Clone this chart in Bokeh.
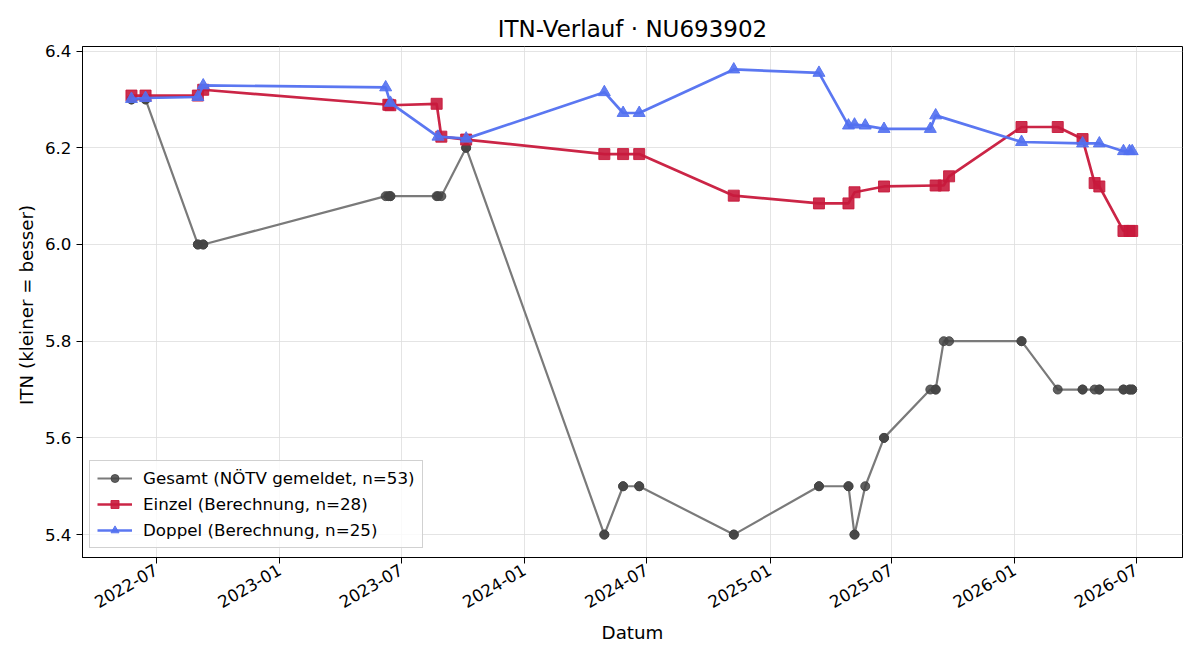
import math
import pandas as pd
from bokeh.plotting import figure
from bokeh.models import Range1d, MonthsTicker, DatetimeTickFormatter, FixedTicker, NumeralTickFormatter, Legend
from bokeh.embed import file_html
from bokeh.resources import INLINE

# ---------------- data ----------------
gesamt_dates = [
    "2022-05-25", "2022-05-25", "2022-06-15", "2022-06-15",
    "2022-09-01", "2022-09-01", "2022-09-09", "2022-09-09",
    "2023-06-08", "2023-06-12", "2023-06-15", "2023-06-15",
    "2023-08-23", "2023-08-25", "2023-08-30", "2023-10-06", "2023-10-06",
    "2024-04-29", "2024-04-29", "2024-05-27", "2024-05-27", "2024-06-20", "2024-06-20",
    "2024-11-08", "2024-11-08", "2025-03-15", "2025-03-15", "2025-04-28", "2025-04-28",
    "2025-05-07", "2025-05-07", "2025-05-23", "2025-06-20", "2025-06-20",
    "2025-08-28", "2025-09-05", "2025-09-05", "2025-09-17", "2025-09-25",
    "2026-01-11", "2026-01-11", "2026-03-06", "2026-04-12", "2026-04-12",
    "2026-04-30", "2026-05-07", "2026-05-07", "2026-06-12", "2026-06-12",
    "2026-06-21", "2026-06-21", "2026-06-25", "2026-06-25",
]
gesamt_values = [
    6.3, 6.3, 6.3, 6.3,
    6.0, 6.0, 6.0, 6.0,
    6.1, 6.1, 6.1, 6.1,
    6.1, 6.1, 6.1, 6.2, 6.2,
    5.4, 5.4, 5.5, 5.5, 5.5, 5.5,
    5.4, 5.4, 5.5, 5.5, 5.5, 5.5,
    5.4, 5.4, 5.5, 5.6, 5.6,
    5.7, 5.7, 5.7, 5.8, 5.8,
    5.8, 5.8, 5.7, 5.7, 5.7,
    5.7, 5.7, 5.7, 5.7, 5.7,
    5.7, 5.7, 5.7, 5.7,
]

einzel_dates = [
    "2022-05-25", "2022-06-15", "2022-09-01", "2022-09-09",
    "2023-06-12", "2023-06-15", "2023-08-23", "2023-08-30", "2023-10-06",
    "2024-04-29", "2024-05-27", "2024-06-20", "2024-11-08",
    "2025-03-15", "2025-04-28", "2025-05-07", "2025-06-20",
    "2025-09-05", "2025-09-17", "2025-09-25",
    "2026-01-11", "2026-03-06", "2026-04-12", "2026-04-30", "2026-05-07",
    "2026-06-12", "2026-06-21", "2026-06-25",
]
einzel_values = [
    6.308, 6.308, 6.308, 6.320,
    6.289, 6.288, 6.291, 6.223, 6.217,
    6.187, 6.187, 6.187, 6.101,
    6.085, 6.085, 6.108, 6.120,
    6.122, 6.122, 6.141,
    6.243, 6.243, 6.218, 6.127, 6.120,
    6.028, 6.028, 6.028,
]

doppel_dates = [
    "2022-05-25", "2022-06-15", "2022-09-01", "2022-09-09",
    "2023-06-08", "2023-06-15", "2023-08-25", "2023-10-06",
    "2024-04-29", "2024-05-27", "2024-06-20", "2024-11-08",
    "2025-03-15", "2025-04-28", "2025-05-07", "2025-05-23", "2025-06-20",
    "2025-08-28", "2025-09-05",
    "2026-01-11", "2026-04-12", "2026-05-07",
    "2026-06-12", "2026-06-21", "2026-06-25",
]
doppel_values = [
    6.301, 6.303, 6.305, 6.329,
    6.325, 6.293, 6.223, 6.219,
    6.315, 6.272, 6.272, 6.362,
    6.355, 6.246, 6.248, 6.246, 6.239,
    6.239, 6.267,
    6.212, 6.209, 6.209,
    6.193, 6.193, 6.193,
]

y_ticks = [5.4, 5.6, 5.8, 6.0, 6.2, 6.4]

# ---------------- figure ----------------
gx = pd.to_datetime(gesamt_dates)
ex = pd.to_datetime(einzel_dates)
dx = pd.to_datetime(doppel_dates)

p = figure(
    width=1200, height=660,
    x_axis_type="datetime",
    output_backend="svg", toolbar_location=None,
    x_range=Range1d(pd.Timestamp("2022-03-13"), pd.Timestamp("2026-09-08")),
    y_range=Range1d(5.3526, 6.4095),
    min_border_left=82, min_border_right=18, min_border_top=46, min_border_bottom=103,
    title="ITN-Verlauf · NU693902",
)
p.background_fill_color = "white"
p.border_fill_color = "white"
p.outline_line_color = "black"
p.outline_line_width = 1
p.outline_line_alpha = 1

p.title.align = "center"
p.title.text_font = "DejaVu Sans"
p.title.text_font_size = "23px"
p.title.text_font_style = "normal"
p.title.text_color = "black"

FONT = "DejaVu Sans"
for ax in (p.xaxis[0], p.yaxis[0]):
    ax.axis_line_color = "black"
    ax.major_tick_line_color = "black"
    ax.minor_tick_line_color = None
    ax.major_tick_out = 6
    ax.major_tick_in = 0
    ax.major_label_text_font = FONT
    ax.major_label_text_font_size = "16.7px"
    ax.major_label_text_color = "black"
    ax.axis_label_text_font = FONT
    ax.axis_label_text_font_size = "18.3px"
    ax.axis_label_text_font_style = "normal"
    ax.axis_label_text_color = "black"

p.xaxis.ticker = MonthsTicker(months=[0, 6])
p.xaxis.formatter = DatetimeTickFormatter(months="%Y-%m", years="%Y-%m", days="%Y-%m")
p.xaxis.major_label_orientation = math.pi / 6
p.xaxis.axis_label = "Datum"
p.yaxis.ticker = FixedTicker(ticks=y_ticks)
p.yaxis.formatter = NumeralTickFormatter(format="0.0")
p.yaxis.axis_label = "ITN  (kleiner = besser)"

p.xgrid.grid_line_color = "#dddddd"
p.ygrid.grid_line_color = "#dddddd"
p.xgrid.grid_line_alpha = 0.8
p.ygrid.grid_line_alpha = 0.8

# Gesamt
g_line = p.line(gx, gesamt_values, line_color="#7a7a7a", line_width=2.2)
g_pts = p.scatter(gx, gesamt_values, marker="circle", size=9,
                  fill_color="#444444", line_color="#444444", fill_alpha=0.85, line_alpha=0.85)
# Einzel
e_line = p.line(ex, einzel_values, line_color="#c8193c", line_width=2.7, line_alpha=0.95)
e_pts = p.scatter(ex, einzel_values, marker="square", size=11,
                  fill_color="#c8193c", line_color="#c8193c", fill_alpha=0.9, line_alpha=0.9)
# Doppel
d_line = p.line(dx, doppel_values, line_color="#5270f0", line_width=2.7, line_alpha=0.95)
d_pts = p.scatter(dx, doppel_values, marker="triangle", size=12,
                  fill_color="#5270f0", line_color="#5270f0", fill_alpha=0.9, line_alpha=0.9)

legend = Legend(items=[
    (f"Gesamt (NÖTV gemeldet, n={len(gesamt_values)})", [g_line, g_pts]),
    (f"Einzel (Berechnung, n={len(einzel_values)})", [e_line, e_pts]),
    (f"Doppel (Berechnung, n={len(doppel_values)})", [d_line, d_pts]),
])
legend.location = (7, 9)
legend.margin = 0
legend.padding = 7
legend.spacing = 6
legend.glyph_width = 35
legend.glyph_height = 20
legend.label_standoff = 11
legend.label_text_font = FONT
legend.label_text_font_size = "16.7px"
legend.label_text_color = "black"
legend.border_line_color = "#cccccc"
legend.border_line_alpha = 0.9
legend.background_fill_color = "white"
legend.background_fill_alpha = 0.8
p.add_layout(legend, "center")

open("out.html", "w").write(file_html(p, INLINE))
